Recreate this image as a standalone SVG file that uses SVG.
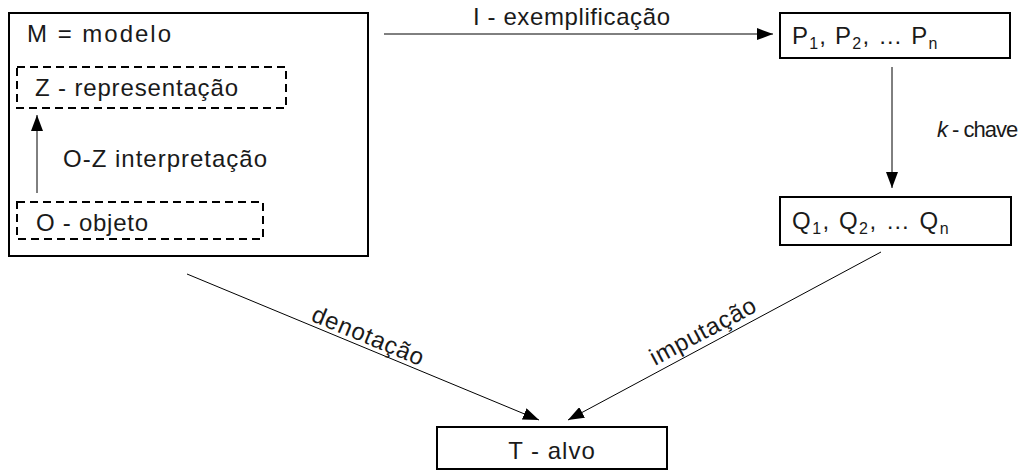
<svg xmlns="http://www.w3.org/2000/svg" width="1021" height="471" viewBox="0 0 1021 471">
<defs>
<marker id="ah" markerUnits="userSpaceOnUse" markerWidth="16" markerHeight="12" refX="16" refY="6" orient="auto">
<path d="M0,0 L16,6 L0,12 Z" fill="#000"/>
</marker>
<style>
.box{fill:#fff;stroke:#000;stroke-width:2}
.dash{fill:none;stroke:#000;stroke-width:2;stroke-dasharray:8 5}
.t{font-family:"Liberation Sans",Arial,sans-serif;font-size:24px;fill:#1a1a1a}
.sub{font-size:16px}
.small{font-size:22px;letter-spacing:-1px}
.c{fill:none;stroke:#000;stroke-width:1}
</style>
</defs>
<rect width="1021" height="471" fill="#fff"/>
<g id="node-M">
<rect class="box" x="9" y="13" width="359" height="243"/>
<text class="t" x="27" y="42" textLength="144" lengthAdjust="spacing">M = modelo</text>
</g>
<g id="node-Z">
<rect class="dash" x="17" y="67" width="269" height="41"/>
<text class="t" x="35" y="96" textLength="203" lengthAdjust="spacing">Z - representação</text>
</g>
<g id="node-O">
<rect class="dash" x="17" y="202" width="246" height="37"/>
<text class="t" x="36" y="231" textLength="112" lengthAdjust="spacing">O - objeto</text>
</g>
<g id="node-P">
<rect class="box" x="780" y="13" width="230" height="45"/>
<text class="t" x="792" y="44" letter-spacing="1.2">P<tspan class="sub" dy="5">1</tspan><tspan dy="-5">, P</tspan><tspan class="sub" dy="5">2</tspan><tspan dy="-5">, … P</tspan><tspan class="sub" dy="5">n</tspan></text>
</g>
<g id="node-Q">
<rect class="box" x="780" y="197" width="231" height="48"/>
<text class="t" x="792" y="229" letter-spacing="1.5">Q<tspan class="sub" dy="5">1</tspan><tspan dy="-5">, Q</tspan><tspan class="sub" dy="5">2</tspan><tspan dy="-5">, … Q</tspan><tspan class="sub" dy="5">n</tspan></text>
</g>
<g id="node-T">
<rect class="box" x="437" y="427" width="230" height="42"/>
<text class="t" x="552" y="459" text-anchor="middle" letter-spacing="1">T - alvo</text>
</g>
<g id="connectors">
<line class="c" x1="384" y1="34" x2="773" y2="34" marker-end="url(#ah)"/>
<line class="c" x1="892" y1="67" x2="892" y2="188" marker-end="url(#ah)"/>
<line class="c" x1="37" y1="193" x2="37" y2="115" marker-end="url(#ah)"/>
<line class="c" x1="187" y1="274" x2="539" y2="420" marker-end="url(#ah)"/>
<line class="c" x1="881" y1="252" x2="568" y2="420" marker-end="url(#ah)"/>
<text class="t" x="473" y="25" textLength="197" lengthAdjust="spacing">I - exemplificação</text>
<text class="t small" x="937" y="137"><tspan font-style="italic">k</tspan> - chave</text>
<text class="t" x="63" y="167" textLength="204" lengthAdjust="spacing">O-Z interpretação</text>
<text class="t" transform="translate(310,320.5) rotate(22.5)" textLength="119" lengthAdjust="spacing">denotação</text>
<text class="t" transform="translate(655,366) rotate(-28.2)" textLength="117" lengthAdjust="spacing">imputação</text>
</g>
</svg>
